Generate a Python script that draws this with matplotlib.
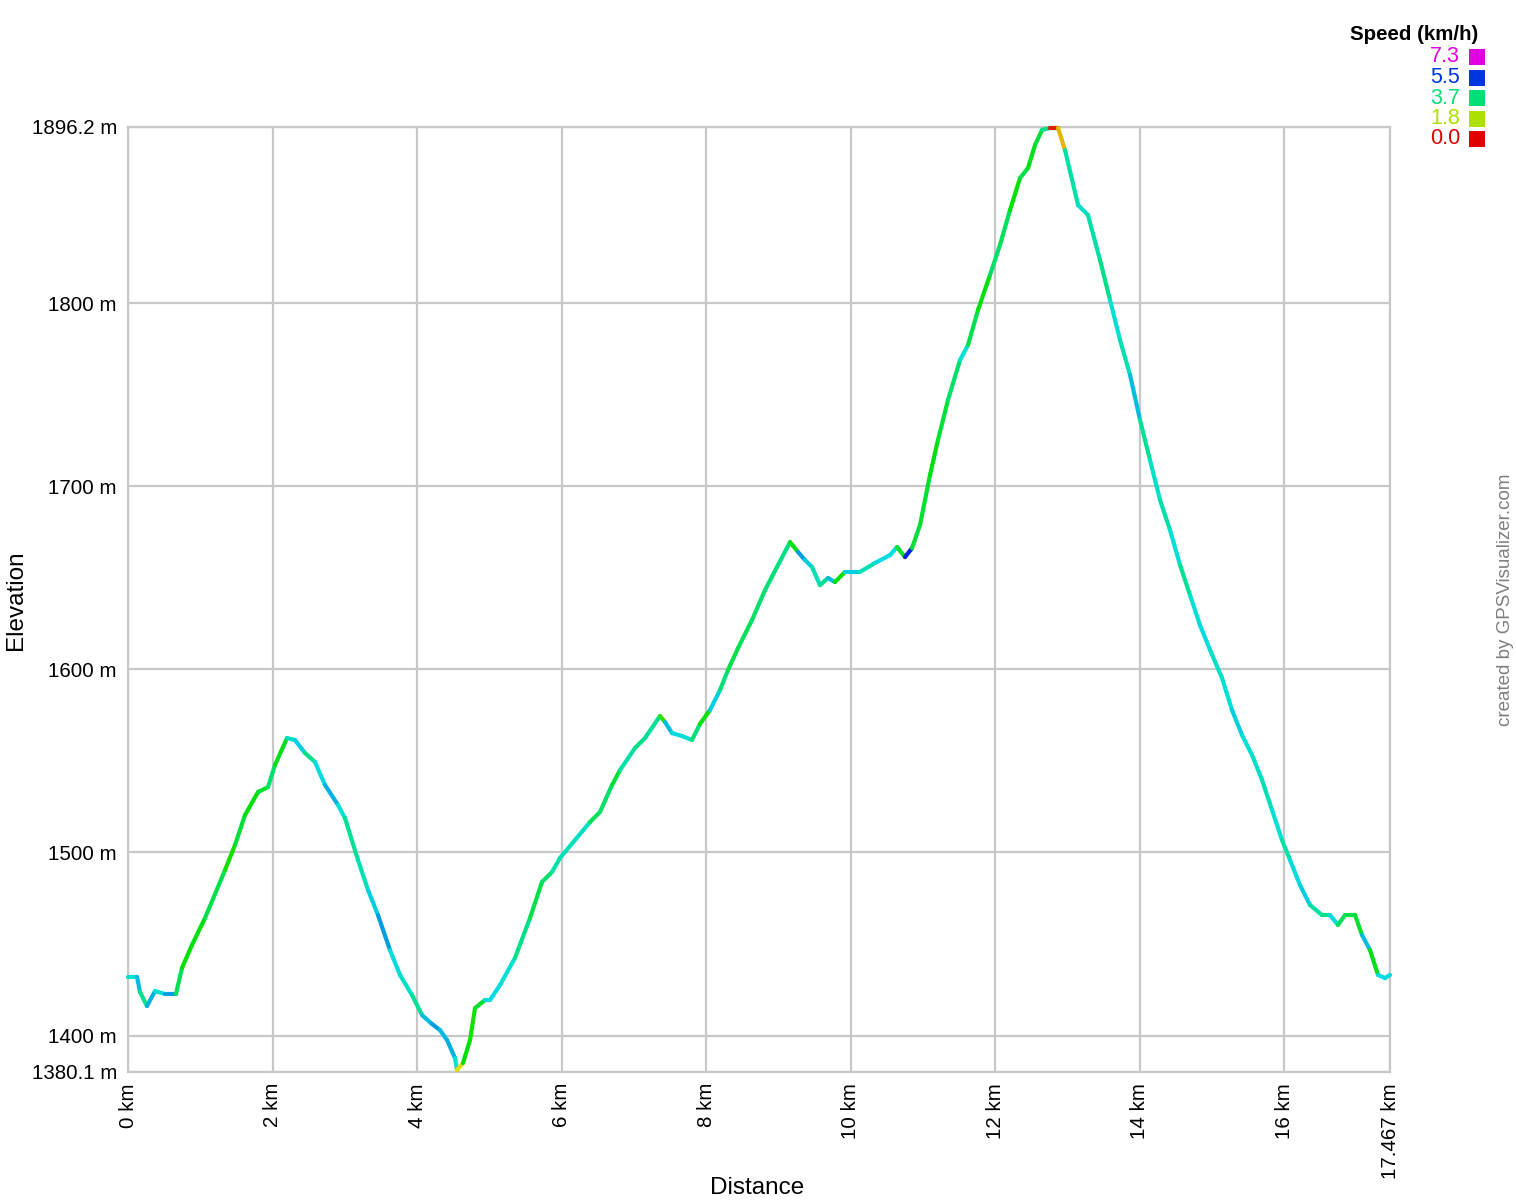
import numpy as np
import matplotlib
matplotlib.use("Agg")
import matplotlib.pyplot as plt
from matplotlib.collections import LineCollection
from matplotlib.colors import ListedColormap, Normalize, hsv_to_rgb

plt.rcParams['font.family'] = ['Liberation Sans', 'DejaVu Sans']

# ---- data ----
distance_km = [
    0.000, 0.125, 0.166, 0.263, 0.374, 0.512, 0.664, 0.747, 0.886, 1.066,
    1.343, 1.481, 1.619, 1.799, 1.938, 2.035, 2.201, 2.311, 2.450, 2.588,
    2.727, 2.907, 3.003, 3.183, 3.322, 3.460, 3.626, 3.765, 3.931, 4.069,
    4.208, 4.318, 4.415, 4.526, 4.554, 4.637, 4.734, 4.803, 4.941, 5.010,
    5.149, 5.356, 5.564, 5.730, 5.869, 5.979, 6.187, 6.394, 6.533, 6.699,
    6.810, 7.017, 7.156, 7.363, 7.433, 7.529, 7.668, 7.806, 7.917, 8.055,
    8.194, 8.304, 8.443, 8.637, 8.817, 8.997, 9.163, 9.273, 9.370, 9.467,
    9.578, 9.689, 9.785, 9.924, 10.131, 10.339, 10.547, 10.644, 10.754, 10.851,
    10.962, 11.100, 11.211, 11.349, 11.516, 11.626, 11.765, 11.931, 12.069, 12.208,
    12.346, 12.457, 12.554, 12.651, 12.761, 12.872, 12.969, 13.149, 13.287, 13.453,
    13.592, 13.730, 13.869, 14.007, 14.145, 14.284, 14.422, 14.561, 14.699, 14.837,
    14.976, 15.142, 15.280, 15.419, 15.557, 15.696, 15.834, 15.972, 16.083, 16.221,
    16.360, 16.526, 16.637, 16.747, 16.844, 16.983, 17.080, 17.190, 17.301, 17.398,
    17.467,
]
elevation_m = [
    1432.0, 1432.0, 1423.8, 1416.1, 1424.3, 1422.7, 1422.7, 1436.9, 1449.5, 1464.2,
    1490.4, 1504.1, 1520.4, 1533.0, 1535.7, 1547.8, 1562.5, 1561.4, 1554.3, 1549.4,
    1536.8, 1525.9, 1518.8, 1495.9, 1479.5, 1465.8, 1446.7, 1433.1, 1422.1, 1411.2,
    1406.3, 1403.0, 1397.6, 1387.7, 1381.2, 1385.0, 1397.6, 1415.0, 1419.4, 1419.4,
    1427.6, 1442.4, 1464.2, 1483.9, 1489.3, 1497.0, 1506.8, 1516.6, 1522.1, 1536.8,
    1545.0, 1557.0, 1562.5, 1574.5, 1571.2, 1565.2, 1563.6, 1561.4, 1570.2, 1577.8,
    1588.7, 1599.6, 1611.6, 1627.0, 1643.3, 1657.0, 1669.5, 1664.1, 1659.7, 1655.9,
    1646.0, 1649.9, 1647.7, 1653.2, 1653.2, 1658.1, 1662.4, 1666.8, 1661.3, 1666.2,
    1678.8, 1706.1, 1725.3, 1747.1, 1768.9, 1777.1, 1796.3, 1815.4, 1831.8, 1850.9,
    1868.3, 1873.8, 1886.4, 1894.6, 1895.7, 1895.7, 1883.6, 1853.6, 1848.1, 1823.6,
    1801.7, 1779.9, 1760.8, 1736.2, 1714.3, 1692.5, 1676.1, 1657.0, 1640.6, 1624.2,
    1610.6, 1595.3, 1577.8, 1564.1, 1553.2, 1539.6, 1523.2, 1506.8, 1495.9, 1482.2,
    1471.3, 1465.8, 1465.8, 1460.4, 1465.8, 1465.8, 1454.9, 1446.7, 1433.1, 1431.4,
    1433.1,
]
speed_kmh = [
    4.3, 4.6, 3.8, 4.7, 4.3, 4.8, 3.5, 2.9, 3.0, 3.4,
    2.8, 3.3, 3.0, 3.2, 3.6, 3.1, 4.2, 4.5, 3.8, 4.4,
    4.7, 4.3, 3.9, 4.1, 4.5, 4.8, 4.4, 4.2, 3.9, 4.6,
    4.8, 4.6, 4.7, 4.3, 1.5, 3.0, 2.8, 3.2, 4.4, 4.4,
    4.3, 3.8, 3.4, 3.6, 4.0, 4.1, 4.2, 3.5, 3.6, 3.3,
    4.0, 3.8, 3.9, 2.6, 4.6, 4.4, 4.3, 3.7, 2.9, 4.5,
    3.7, 3.4, 3.5, 3.6, 3.7, 3.8, 3.0, 4.8, 4.5, 4.1,
    3.9, 4.6, 3.0, 4.5, 4.1, 4.4, 4.4, 3.2, 5.6, 3.3,
    3.2, 3.0, 3.3, 3.6, 4.3, 3.4, 3.0, 3.6, 3.5, 2.9,
    3.4, 3.1, 3.3, 3.8, 0.2, 1.2, 4.0, 4.2, 4.0, 3.8,
    4.3, 4.1, 4.6, 3.9, 4.2, 4.0, 4.3, 3.9, 4.3, 4.4,
    4.2, 4.3, 4.5, 4.3, 4.2, 4.1, 4.3, 4.0, 4.4, 4.5,
    4.0, 3.8, 4.4, 3.5, 3.4, 3.2, 4.6, 3.1, 4.4, 4.4,
    4.4,
]
x_ticks = [0, 2, 4, 6, 8, 10, 12, 14, 16, 17.467]
x_tick_labels = ['0 km', '2 km', '4 km', '6 km', '8 km', '10 km', '12 km',
                 '14 km', '16 km', '17.467 km']
y_ticks = [1380.1, 1400, 1500, 1600, 1700, 1800, 1896.2]
y_tick_labels = ['1380.1 m', '1400 m', '1500 m', '1600 m', '1700 m',
                 '1800 m', '1896.2 m']
legend_values = [7.3, 5.5, 3.7, 1.8, 0.0]
speed_max = 7.3

# ---- colormap: hue sweep red -> yellow -> green -> cyan -> blue -> magenta ----
hues = np.linspace(0, 300 / 360, 256)
hsv = np.stack([hues, np.ones_like(hues), np.full_like(hues, 0.88)], axis=1)
cmap = ListedColormap(hsv_to_rgb(hsv))
norm = Normalize(0, speed_max)

W, H = 1516, 1200
fig = plt.figure(figsize=(W / 100, H / 100), dpi=100)
ax = fig.add_axes([128 / W, 1 - 1072 / H, (1390 - 128) / W, (1072 - 127) / H])

x = np.array(distance_km)
y = np.array(elevation_m)
pts = np.column_stack([x, y]).reshape(-1, 1, 2)
segs = np.concatenate([pts[:-1], pts[1:]], axis=1)
lc = LineCollection(segs, cmap=cmap, norm=norm, linewidths=3.0,
                    capstyle='round', joinstyle='round', zorder=3)
lc.set_array(np.array(speed_kmh[:-1]))
lc.set_clip_on(False)
ax.add_collection(lc)

ax.set_xlim(0, 17.467)
ax.set_ylim(1380.1, 1896.2)
ax.set_xticks(x_ticks)
ax.set_xticklabels(x_tick_labels, rotation=90, va='top', ha='center')
ax.set_yticks(y_ticks)
ax.set_yticklabels(y_tick_labels)
ax.tick_params(length=0, labelsize=14.8, pad=8, colors='black')
ax.grid(True, color='#c8c8c8', linewidth=1.6, zorder=0)
ax.set_axisbelow(True)
for s in ax.spines.values():
    s.set_color('#c8c8c8')
    s.set_linewidth(1.6)

fig.text(16 / W, 1 - 600 / H, 'Elevation', rotation=90, ha='center',
         va='center', fontsize=17.5)
fig.text(757 / W, 1 - 1188 / H, 'Distance', ha='center', va='center',
         fontsize=17.5)
fig.text(1506 / W, 1 - 600 / H, 'created by GPSVisualizer.com', rotation=90,
         ha='center', va='center', fontsize=13.5, color='#808080')

# speed legend
fig.text(1414 / W, 1 - 34 / H, 'Speed (km/h)', ha='center', va='center',
         fontsize=14.8, fontweight='bold')
for i, v in enumerate(legend_values):
    yc = 57 + i * 20.5
    col = cmap(norm(v))
    fig.text(1460 / W, 1 - yc / H, f'{v:.1f}', ha='right', va='center',
             fontsize=15.5, color=col)
    fig.patches.append(plt.Rectangle((1469 / W, 1 - (yc + 8) / H), 16 / W,
                                     16 / H, transform=fig.transFigure,
                                     facecolor=col, edgecolor='none'))

fig.savefig('out.png', dpi=100)
